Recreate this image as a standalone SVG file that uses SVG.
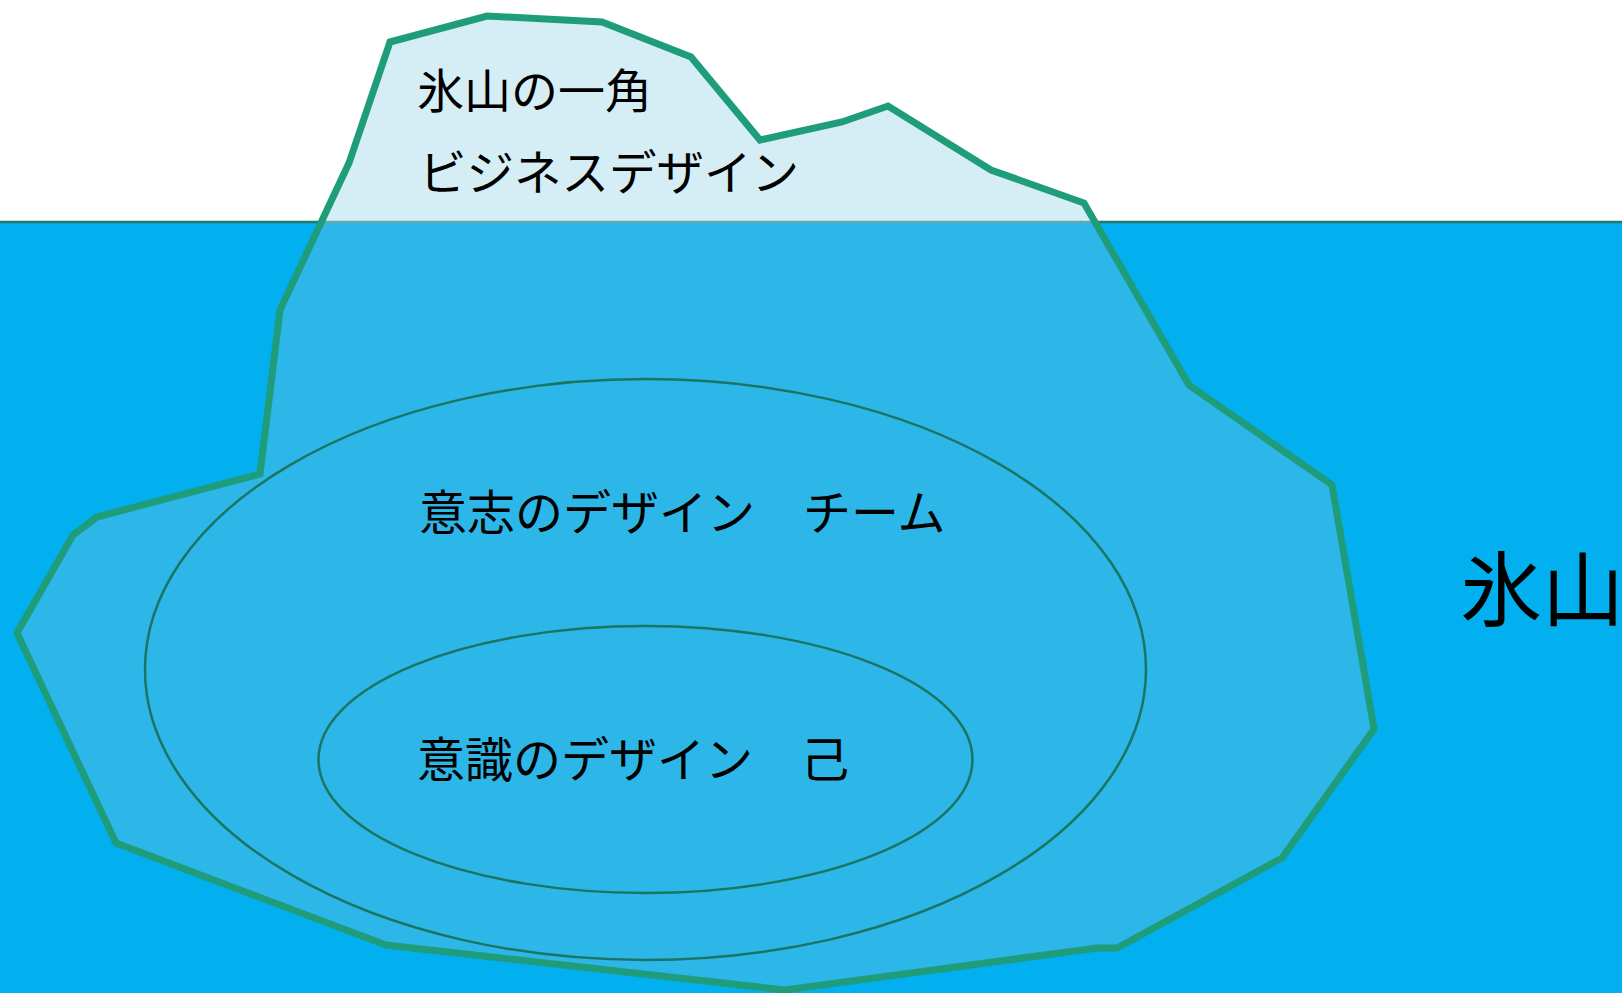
<svg xmlns="http://www.w3.org/2000/svg" width="1622" height="993" viewBox="0 0 1622 993">
<style>
.lbl{font-family:"Noto Sans CJK JP","Noto Sans CJK SC",sans-serif;fill:#000;}
.ring{fill:none;stroke:#1B7563;stroke-width:2.5;}
</style>
<defs>
<clipPath id="berg">
<polygon points="390,42 487,16 602,22 691,57 760,140 842,122 888,106 991,170 1084,203 1189,385 1332,485 1374,729 1282,858 1117,948 1097,948 785,990 386,945 116,843 17,633 73,535 97,517 260,474 280,310 349,163"/>
</clipPath>
</defs>
<rect x="0" y="0" width="1622" height="993" fill="#FFFFFF"/>
<rect x="0" y="222" width="1622" height="771" fill="#02AFEF"/>
<line x1="0" y1="222" x2="1622" y2="222" stroke="#1D7A6C" stroke-width="2.5"/>
<g id="iceberg">
<polygon points="390,42 487,16 602,22 691,57 760,140 842,122 888,106 991,170 1084,203 1189,385 1332,485 1374,729 1282,858 1117,948 1097,948 785,990 386,945 116,843 17,633 73,535 97,517 260,474 280,310 349,163" fill="#D5EEF5"/>
<rect x="0" y="222" width="1622" height="771" fill="#2DB7E8" clip-path="url(#berg)"/>
<line x1="0" y1="222" x2="1622" y2="222" stroke="#5FAAB0" stroke-width="2.5" clip-path="url(#berg)"/>
<polygon points="390,42 487,16 602,22 691,57 760,140 842,122 888,106 991,170 1084,203 1189,385 1332,485 1374,729 1282,858 1117,948 1097,948 785,990 386,945 116,843 17,633 73,535 97,517 260,474 280,310 349,163" fill="none" stroke="#1F9D7A" stroke-width="7" stroke-linejoin="miter"/>
</g>
<g id="outer-ellipse">
<ellipse class="ring" cx="645.5" cy="669.5" rx="500.5" ry="290.5"/>
</g>
<g id="inner-ellipse">
<ellipse class="ring" cx="645.5" cy="759.5" rx="327" ry="133.5"/>
</g>
<g id="tip-label">
<text class="lbl" x="417" y="108" font-size="47">氷山の一角</text>
<text class="lbl" x="419" y="190" font-size="47.5">ビジネスデザイン</text>
</g>
<g id="team-label">
<text class="lbl" x="419" y="530" font-size="48">意志のデザイン　チーム</text>
</g>
<g id="self-label">
<text class="lbl" x="417" y="777" font-size="48">意識のデザイン　己</text>
</g>
<g id="side-label">
<text class="lbl" x="1460" y="620" font-size="82">氷山</text>
</g>
</svg>
